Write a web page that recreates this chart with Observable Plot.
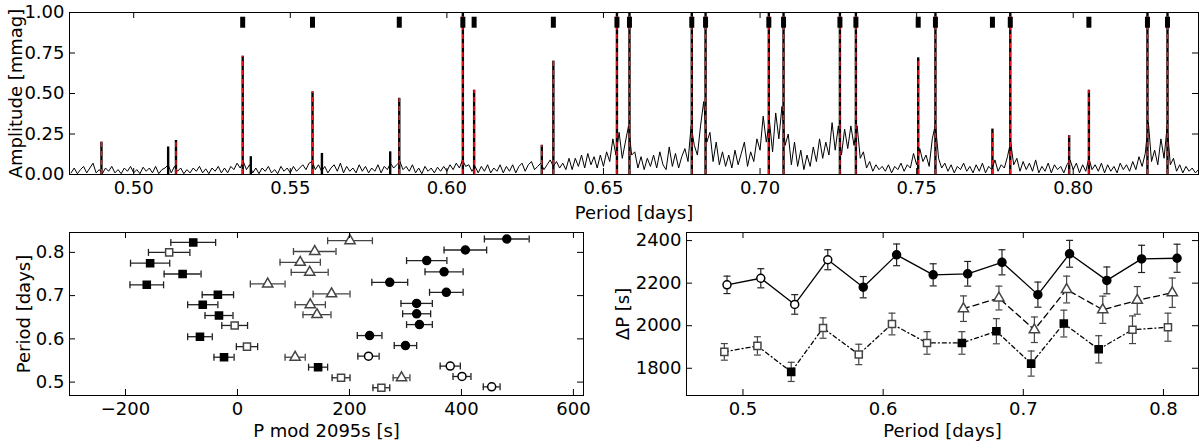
<!DOCTYPE html>
<html lang="en">
<head>
<meta charset="UTF-8">
<title>Amplitude spectrum and period spacings</title>
<script src="https://cdn.jsdelivr.net/npm/d3@7"></script>
<script src="https://cdn.jsdelivr.net/npm/@observablehq/plot@0.6"></script>
<style>
  body { margin: 0; background: white; }
  #fig { position: relative; width: 1200px; height: 442px; }
  #fig > div { position: absolute; }
</style>
</head>
<body>
<div id="fig">
  <div id="bl" style="left:0;top:220px"></div>
  <div id="br" style="left:600px;top:220px"></div>
  <div id="top" style="left:0;top:0"></div>
</div>
<script>
// ---- top panel: amplitude spectrum (mmag) vs period (days)
const noiseStart = 0.480, noiseStep = 0.001;
const noiseAmp = [
  .01,.04,.005,.03,.05,.01,.04,.07,.01,.03,
  .005,.04,.02,.05,.01,.03,.005,.04,.02,.05,
  .01,.03,.005,.045,.02,.04,.01,.05,.005,.03,
  .04,.06,.01,.05,.02,.04,.005,.03,.01,.04,
  .02,.05,.01,.035,.005,.04,.02,.05,.01,.04,
  .01,.05,.03,.07,.04,.08,.03,.06,.01,.04,
  .005,.04,.02,.05,.01,.03,.005,.05,.02,.04,
  .01,.05,.02,.04,.06,.03,.07,.08,.03,.06,
  .02,.05,.01,.04,.06,.02,.07,.01,.05,.02,
  .04,.01,.06,.02,.05,.01,.04,.02,.06,.01,
  .05,.03,.07,.04,.06,.08,.03,.05,.02,.06,
  .01,.04,.005,.05,.02,.04,.01,.045,.02,.05,
  .02,.06,.03,.07,.04,.09,.05,.06,.02,.05,
  .01,.05,.02,.06,.01,.04,.02,.06,.01,.05,
  .02,.06,.01,.05,.07,.02,.06,.08,.03,.05,
  .07,.03,.06,.09,.05,.08,.04,.07,.03,.10,
  .03,.10,.05,.12,.04,.13,.06,.11,.04,.12,
  .05,.14,.08,.22,.12,.26,.10,.20,.30,.12,
  .14,.04,.11,.03,.10,.05,.12,.04,.14,.06,
  .03,.17,.05,.13,.04,.11,.16,.08,.30,.18,
  .12,.30,.45,.20,.26,.08,.20,.06,.14,.05,
  .12,.04,.15,.06,.13,.20,.05,.14,.08,.22,
  .15,.36,.20,.33,.14,.38,.22,.42,.18,.25,
  .06,.20,.05,.15,.03,.12,.05,.17,.08,.22,
  .10,.20,.12,.32,.15,.30,.12,.28,.16,.30,
  .18,.30,.10,.14,.04,.08,.02,.06,.03,.05,
  .02,.06,.01,.05,.03,.07,.02,.06,.04,.13,
  .06,.16,.08,.12,.05,.22,.31,.10,.04,.07,
  .02,.06,.01,.05,.03,.07,.02,.05,.01,.06,
  .02,.07,.01,.05,.03,.09,.02,.06,.04,.11,
  .20,.06,.10,.02,.08,.03,.07,.02,.09,.01,
  .05,.02,.07,.01,.06,.03,.05,.01,.06,.09,
  .03,.07,.01,.06,.02,.10,.03,.06,.02,.07,
  .01,.06,.02,.05,.01,.07,.03,.06,.02,.08,
  .03,.11,.05,.13,.32,.08,.15,.06,.22,.10,
  .30,.06,.10,.02,.06,.01,.05,.02,.04,.01,
  .03
];
// spectral peaks (period, amplitude); 1.2 = beyond the top of the axis
const peakPeriod = [0.4897,0.5110,0.5135,0.5348,0.5374,0.5571,0.5601,0.5819,0.5848,0.6051,
  0.6087,0.6303,0.6340,0.6543,0.6583,0.6782,0.6826,0.7028,0.7075,0.7255,
  0.7306,0.7505,0.7560,0.7742,0.7799,0.7987,0.8050,0.8237,0.8301];
const peakAmp = [0.20,0.17,0.21,0.73,0.11,0.51,0.13,0.14,0.47,1.2,
  0.52,0.18,0.70,1.2,1.2,1.2,1.2,1.2,1.2,1.2,
  1.2,0.72,1.2,0.28,1.2,0.24,0.52,1.2,1.2];
// fitted model lines (red dashed)
const modelPeriod = [0.4897,0.5135,0.5348,0.5571,0.5848,0.6051,0.6087,0.6303,0.6340,0.6543,
  0.6583,0.6782,0.6826,0.7028,0.7075,0.7255,0.7306,0.7505,0.7560,0.7742,
  0.7799,0.7987,0.8050,0.8237,0.8301];
const modelAmp = [0.20,0.21,0.73,0.51,0.47,1.2,0.52,0.18,0.70,1.2,
  1.2,1.2,1.2,1.2,1.2,1.2,1.2,0.72,1.2,0.28,
  1.2,0.24,0.52,1.2,1.2];
// identified modes (black markers at the top)
const modePeriod = [0.5348,0.5571,0.5848,0.6051,0.6087,0.6340,0.6543,0.6583,0.6782,0.6826,
  0.7028,0.7075,0.7255,0.7306,0.7505,0.7560,0.7742,0.7799,0.8050,0.8237,0.8301];
const markerLevel = 0.94;
const topXTicks = [0.50,0.55,0.60,0.65,0.70,0.75,0.80];
const topYTicks = [0,0.25,0.5,0.75,1];

// ---- bottom left: [period, P mod 2095 s, error]
const filledSquaresL = [[0.823,-79,40],[0.775,-156,35],[0.750,-98,33],[0.725,-162,30],[0.702,-35,28],
  [0.679,-62,27],[0.654,-33,25],[0.605,-67,22],[0.5575,-24,18],[0.5345,144,17]];
const openSquaresL = [[0.800,-122,37],[0.631,-5,23],[0.582,17,19],[0.510,185,16],[0.487,257,15]];
const openTrianglesL = [[0.827,201,40],[0.802,138,38],[0.777,112,36],[0.754,129,33],[0.727,54,31],
  [0.704,168,33],[0.679,130,27],[0.656,142,25],[0.5575,103,18],[0.510,293,15]];
const filledCirclesL = [[0.831,481,40],[0.8055,407,38],[0.781,338,36],[0.755,369,34],[0.7307,272,32],
  [0.7077,373,30],[0.682,320,28],[0.658,320,25],[0.633,325,23],[0.6076,236,22],[0.5845,300,20]];
const openCirclesL = [[0.560,234,19],[0.537,380,18],[0.513,401,16],[0.489,454,15]];
const blXTicks = [-200,0,200,400,600];
const blYTicks = [0.5,0.6,0.7,0.8];

// ---- bottom right: [period, delta P, error, filled]
const solidSeries = [[0.4886,2192,41,false],[0.5127,2223,45,false],[0.5369,2100,46,false],[0.5605,2310,47,false],
  [0.5858,2181,50,true],[0.6096,2333,51,true],[0.6357,2239,52,true],[0.6603,2244,58,true],
  [0.6848,2298,59,true],[0.7104,2146,59,true],[0.7330,2338,63,true],[0.7596,2213,63,true],
  [0.7844,2314,64,true],[0.8097,2317,66,true]];
const dashedSeries = [[0.6573,2080,60],[0.6826,2130,56],[0.7079,1981,60],[0.7309,2170,63],
  [0.7567,2075,64],[0.7813,2119,65],[0.8063,2155,69]];
const dottedSeries = [[0.4867,1877,39,false],[0.5103,1905,43,false],[0.5344,1783,45,true],[0.5571,1989,48,false],
  [0.5826,1865,48,false],[0.6063,2008,51,false],[0.6313,1919,53,false],[0.6562,1919,53,true],
  [0.6808,1974,59,true],[0.7056,1822,59,true],[0.7289,2010,63,true],[0.7538,1889,64,true],
  [0.7779,1981,65,false],[0.8032,1993,66,false]];
const brXTicks = [0.5,0.6,0.7,0.8];
const brYTicks = [1800,2000,2200,2400];

// ---- helpers
const font = {fontFamily: "DejaVu Sans, sans-serif", fontSize: "18px", color: "black", background: "transparent", overflow: "visible"};
const capV = {draw(ctx) { ctx.moveTo(0, -3.5); ctx.lineTo(0, 3.5); }};
const capH = {draw(ctx) { ctx.moveTo(-3.5, 0); ctx.lineTo(3.5, 0); }};
const modeBar = {draw(ctx) { ctx.rect(-2.5, -5.5, 5, 11); }};

// matplotlib style ticks pointing inwards on all four sides
function inwardTicks(xt, yt, w, h, len = 6) {
  return [
    Plot.ruleX(xt, {x: d => d, insetTop: h - len}),
    Plot.ruleX(xt, {x: d => d, insetBottom: h - len}),
    Plot.ruleY(yt, {y: d => d, insetRight: w - len}),
    Plot.ruleY(yt, {y: d => d, insetLeft: w - len})
  ];
}

// ---- top
const noise = noiseAmp.map((a, i) => ({p: noiseStart + i * noiseStep, a}));
const peaks = peakPeriod.map((p, i) => ({p, a: peakAmp[i]}));
const model = modelPeriod.map((p, i) => ({p, a: modelAmp[i]}));
{
  const W = 1200, H = 225, ml = 69, mr = 2, mt = 12, mb = 51;
  const chart = Plot.plot({
    width: W, height: H, marginLeft: ml, marginRight: mr, marginTop: mt, marginBottom: mb,
    style: font,
    x: {domain: [0.4795, 0.84], ticks: topXTicks, tickFormat: d3.format(".2f"), tickSize: 0, tickPadding: 7,
        label: "Period [days]", labelAnchor: "center", labelOffset: 44, labelArrow: "none"},
    y: {domain: [0, 1], ticks: topYTicks, tickFormat: d3.format(".2f"), tickSize: 0, tickPadding: 5,
        label: "Amplitude [mmag]", labelAnchor: "center", labelOffset: 60, labelArrow: "none"},
    marks: [
      Plot.line(noise, {x: "p", y: "a", stroke: "black", strokeWidth: 1, clip: true}),
      Plot.ruleX(peaks, {x: "p", y: "a", stroke: "black", strokeWidth: 2.4, clip: true}),
      Plot.ruleX(model, {x: "p", y: "a", stroke: "#e8191e", strokeWidth: 1.5, strokeDasharray: "5,4", clip: true}),
      Plot.dot(modePeriod, {x: d => d, y: () => markerLevel, symbol: modeBar, fill: "black", stroke: "none"}),
      ...inwardTicks(topXTicks, topYTicks, W - ml - mr, H - mt - mb),
      Plot.frame({stroke: "black"})
    ]
  });
  document.getElementById("top").appendChild(chart);
}

// ---- bottom left
function hbars(rows, stroke) {
  return [
    Plot.ruleY(rows, {y: r => r[0], x1: r => r[1] - r[2], x2: r => r[1] + r[2], stroke, strokeWidth: 1.3}),
    Plot.dot(rows, {x: r => r[1] - r[2], y: r => r[0], symbol: capV, stroke, fill: "none", strokeWidth: 1.3}),
    Plot.dot(rows, {x: r => r[1] + r[2], y: r => r[0], symbol: capV, stroke, fill: "none", strokeWidth: 1.3})
  ];
}
{
  const W = 600, H = 222, ml = 69, mr = 17, mt = 12, mb = 47;
  const chart = Plot.plot({
    width: W, height: H, marginLeft: ml, marginRight: mr, marginTop: mt, marginBottom: mb,
    style: font,
    x: {domain: [-300, 618], ticks: blXTicks, tickFormat: d3.format("d"), tickSize: 0, tickPadding: 7,
        label: "P mod 2095s [s]", labelAnchor: "center", labelOffset: 41, labelArrow: "none"},
    y: {domain: [0.469, 0.846], ticks: blYTicks, tickFormat: d3.format(".1f"), tickSize: 0, tickPadding: 5,
        label: "Period [days]", labelAnchor: "center", labelOffset: 52, labelArrow: "none"},
    marks: [
      ...hbars(filledSquaresL, "#222"),
      ...hbars(openSquaresL, "#222"),
      ...hbars(openTrianglesL, "#444"),
      ...hbars(filledCirclesL, "#222"),
      ...hbars(openCirclesL, "#222"),
      Plot.dot(filledSquaresL, {x: r => r[1], y: r => r[0], symbol: "square", r: 4, fill: "black", stroke: "black"}),
      Plot.dot(openSquaresL, {x: r => r[1], y: r => r[0], symbol: "square", r: 4, fill: "white", stroke: "#444"}),
      Plot.dot(openTrianglesL, {x: r => r[1], y: r => r[0], symbol: "triangle", r: 3.8, fill: "white", stroke: "#444"}),
      Plot.dot(filledCirclesL, {x: r => r[1], y: r => r[0], symbol: "circle", r: 4, fill: "black", stroke: "black"}),
      Plot.dot(openCirclesL, {x: r => r[1], y: r => r[0], symbol: "circle", r: 4, fill: "white", stroke: "black"}),
      ...inwardTicks(blXTicks, blYTicks, W - ml - mr, H - mt - mb),
      Plot.frame({stroke: "black"})
    ]
  });
  document.getElementById("bl").appendChild(chart);
}

// ---- bottom right
function vbars(rows, stroke) {
  return [
    Plot.ruleX(rows, {x: r => r[0], y1: r => r[1] - r[2], y2: r => r[1] + r[2], stroke, strokeWidth: 1.2}),
    Plot.dot(rows, {x: r => r[0], y: r => r[1] - r[2], symbol: capH, stroke, fill: "none", strokeWidth: 1.2}),
    Plot.dot(rows, {x: r => r[0], y: r => r[1] + r[2], symbol: capH, stroke, fill: "none", strokeWidth: 1.2})
  ];
}
{
  const W = 600, H = 222, ml = 86, mr = 2, mt = 12, mb = 47;
  const chart = Plot.plot({
    width: W, height: H, marginLeft: ml, marginRight: mr, marginTop: mt, marginBottom: mb,
    style: font,
    x: {domain: [0.4597, 0.825], ticks: brXTicks, tickFormat: d3.format(".1f"), tickSize: 0, tickPadding: 7,
        label: "Period [days]", labelAnchor: "center", labelOffset: 41, labelArrow: "none"},
    y: {domain: [1672, 2438], ticks: brYTicks, tickFormat: d3.format("d"), tickSize: 0, tickPadding: 5,
        label: "ΔP [s]", labelAnchor: "center", labelOffset: 70, labelArrow: "none"},
    marks: [
      Plot.line(solidSeries, {x: r => r[0], y: r => r[1], stroke: "black", strokeWidth: 1.3}),
      Plot.line(dashedSeries, {x: r => r[0], y: r => r[1], stroke: "black", strokeWidth: 1.3, strokeDasharray: "6,4"}),
      Plot.line(dottedSeries, {x: r => r[0], y: r => r[1], stroke: "black", strokeWidth: 1.3, strokeDasharray: "4,3,1,3"}),
      ...vbars(solidSeries, "#222"),
      ...vbars(dashedSeries, "#444"),
      ...vbars(dottedSeries, "#444"),
      Plot.dot(solidSeries, {x: r => r[0], y: r => r[1], symbol: "circle", r: 4, stroke: "black", fill: r => r[3] ? "black" : "white"}),
      Plot.dot(dashedSeries, {x: r => r[0], y: r => r[1], symbol: "triangle", r: 3.8, stroke: "#444", fill: "white"}),
      Plot.dot(dottedSeries, {x: r => r[0], y: r => r[1], symbol: "square", r: 4, stroke: r => r[3] ? "black" : "#444", fill: r => r[3] ? "black" : "white"}),
      ...inwardTicks(brXTicks, brYTicks, W - ml - mr, H - mt - mb),
      Plot.frame({stroke: "black"})
    ]
  });
  document.getElementById("br").appendChild(chart);
}
</script>
</body>
</html>
